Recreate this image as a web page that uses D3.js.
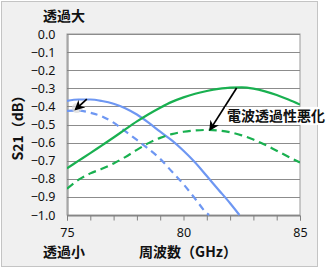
<!DOCTYPE html>
<html>
<head>
<meta charset="utf-8">
<script src="https://cdn.jsdelivr.net/npm/d3@7"></script>
<style>
  body { margin: 0; background: #fff; }
  text { font-family: "Noto Sans", "Noto Sans CJK JP", sans-serif; }
  .jp { font-family: "Noto Sans CJK JP", sans-serif; font-weight: 700; }
</style>
</head>
<body>
<div class="viz"></div>
<script>
// chart data (frequency in GHz, S21 in dB)
var freqBlue = [75, 75.5, 76, 76.5, 77, 77.5, 78, 78.5, 79, 79.5, 80, 80.5, 81, 81.5, 82, 82.4];
var blueSolid = [-0.37, -0.362, -0.362, -0.37, -0.385, -0.41, -0.445, -0.49, -0.54, -0.588, -0.645, -0.71, -0.785, -0.86, -0.935, -1.0];

var freqBlueDash = [75, 75.5, 76, 76.5, 77, 77.5, 78, 78.5, 79, 79.5, 80, 80.5, 81, 81.1];
var blueDashed = [-0.425, -0.423, -0.435, -0.455, -0.49, -0.537, -0.585, -0.635, -0.69, -0.76, -0.83, -0.91, -0.99, -1.0];

var freqGreen = [75, 75.5, 76, 76.5, 77, 77.5, 78, 78.5, 79, 79.5, 80, 80.5, 81, 81.5, 82, 82.5, 83, 83.5, 84, 84.5, 85];
var greenSolid = [-0.742, -0.70, -0.658, -0.615, -0.572, -0.527, -0.483, -0.443, -0.407, -0.375, -0.35, -0.33, -0.315, -0.303, -0.296, -0.295, -0.302, -0.317, -0.337, -0.362, -0.39];
var greenDashed = [-0.855, -0.805, -0.77, -0.745, -0.715, -0.68, -0.64, -0.603, -0.574, -0.553, -0.54, -0.533, -0.53, -0.533, -0.543, -0.56, -0.583, -0.612, -0.645, -0.678, -0.71];

var yTicks = [0, -0.1, -0.2, -0.3, -0.4, -0.5, -0.6, -0.7, -0.8, -0.9, -1.0];
var xLabels = [75, 80, 85];
var xMinor = d3.range(75, 86, 1);

// set the dimensions and margins of the graph
var W = 326, H = 269;
var margin = {top: 34, right: 26, bottom: 54, left: 67},
    width = W - margin.left - margin.right,
    height = H - margin.top - margin.bottom;

var svgRoot = d3.select(".viz")
  .append("svg")
    .attr("width", W)
    .attr("height", H);

// outer frame
svgRoot.append("rect")
  .attr("x", 1.5).attr("y", 1.5)
  .attr("width", 316).attr("height", 265)
  .attr("fill", "#f0f0f0")
  .attr("stroke", "#c4c4c4");

var svg = svgRoot.append("g")
  .attr("transform", "translate(" + margin.left + "," + margin.top + ")");

var x = d3.scaleLinear().domain([75, 85]).range([0, width]);
var y = d3.scaleLinear().domain([-1, 0]).range([height, 0]);

// plot area
svg.append("rect")
  .attr("width", width).attr("height", height)
  .attr("fill", "#fff")
  .attr("stroke", "#999");

// gridlines
svg.append("g")
  .selectAll("line")
  .data(yTicks)
  .join("line")
    .attr("x1", 0).attr("x2", width)
    .attr("y1", d => Math.round(y(d)) + 0.5)
    .attr("y2", d => Math.round(y(d)) + 0.5)
    .attr("stroke", "#8c8c8c");

// y axis
var yAxis = svg.append("g")
  .attr("transform", "translate(0.5,0)")
  .call(d3.axisLeft(y).tickValues(yTicks).tickSize(0).tickPadding(12)
    .tickFormat(d3.format(".1f")));
yAxis.select(".domain").attr("stroke", "#808080");
yAxis.selectAll("text").attr("font-size", "12.5px").attr("fill", "#111")
  .style("font-family", "'Noto Sans', sans-serif");

// x axis
var xAxis = svg.append("g")
  .attr("transform", "translate(0," + (height + 0.5) + ")")
  .call(d3.axisBottom(x).tickValues(xMinor).tickSize(5).tickPadding(8)
    .tickFormat(d => xLabels.includes(d) ? d : ""));
xAxis.select(".domain").attr("stroke", "#808080");
xAxis.selectAll("line").attr("stroke", "#808080");
xAxis.selectAll("text").attr("font-size", "12.5px").attr("fill", "#111")
  .style("font-family", "'Noto Sans', sans-serif");

// clip lines to plot
svg.append("clipPath").attr("id", "clip")
  .append("rect").attr("width", width).attr("height", height + 2).attr("y", -1);

var line = d3.line()
  .x(d => x(d[0]))
  .y(d => y(d[1]))
  .curve(d3.curveMonotoneX);

var series = [
  {f: freqBlue, v: blueSolid, color: "#6e97f2", dash: null},
  {f: freqBlueDash, v: blueDashed, color: "#6e97f2", dash: "7,5"},
  {f: freqGreen, v: greenSolid, color: "#19b050", dash: null},
  {f: freqGreen, v: greenDashed, color: "#19b050", dash: "8,5"}
];

var lines = svg.append("g").attr("clip-path", "url(#clip)");
series.forEach(s => {
  lines.append("path")
    .datum(s.f.map((f, i) => [f, s.v[i]]))
    .attr("fill", "none")
    .attr("stroke", s.color)
    .attr("stroke-width", 2.2)
    .attr("stroke-dasharray", s.dash)
    .attr("d", line);
});

// arrows
svgRoot.append("defs").append("marker")
  .attr("id", "head")
  .attr("viewBox", "0 0 10 10")
  .attr("refX", 8).attr("refY", 5)
  .attr("markerWidth", 6).attr("markerHeight", 6)
  .attr("markerUnits", "strokeWidth")
  .attr("orient", "auto")
  .append("path")
    .attr("d", "M0,0 L10,5 L0,10 L3,5 z")
    .attr("fill", "#000");

var arrows = [
  {from: [75.85, -0.36], to: [75.38, -0.415], glow: true},
  {from: [82.28, -0.298], to: [81.15, -0.527], glow: false}
];

arrows.forEach(a => {
  if (a.glow) {
    // soft grey shadow round the head
    svg.append("circle")
      .attr("cx", x(a.to[0]) + 1).attr("cy", y(a.to[1]) - 1)
      .attr("r", 5)
      .attr("fill", "#d8d8d8").attr("opacity", 0.7);
  }
  svg.append("line")
    .attr("x1", x(a.from[0])).attr("y1", y(a.from[1]))
    .attr("x2", x(a.to[0])).attr("y2", y(a.to[1]))
    .attr("stroke", "#000").attr("stroke-width", 1.7)
    .attr("marker-end", "url(#head)");
});

// annotation label with white box
var lab = svg.append("g")
  .attr("transform", "translate(" + (x(81.87)) + "," + (y(-0.48)) + ")");
lab.append("rect")
  .attr("x", -2).attr("y", -14).attr("width", 102).attr("height", 18)
  .attr("fill", "#fff");
lab.append("text")
  .attr("class", "jp")
  .attr("font-size", "14px")
  .attr("fill", "#111")
  .text("電波透過性悪化");

// titles
svgRoot.append("text").attr("class", "jp")
  .attr("x", 43).attr("y", 21)
  .attr("font-size", "14px").attr("fill", "#111")
  .text("透過大");

svgRoot.append("text").attr("class", "jp")
  .attr("x", 43).attr("y", 257)
  .attr("font-size", "14px").attr("fill", "#111")
  .text("透過小");

svgRoot.append("text").attr("class", "jp")
  .attr("x", 188).attr("y", 257)
  .attr("text-anchor", "middle")
  .attr("font-size", "14px").attr("fill", "#111")
  .text("周波数（GHz）");

svgRoot.append("text").attr("class", "jp")
  .attr("transform", "translate(23," + (margin.top + height / 2) + ") rotate(-90)")
  .attr("text-anchor", "middle")
  .attr("font-size", "14px").attr("fill", "#111")
  .text("S21（dB）");
</script>
</body>
</html>
